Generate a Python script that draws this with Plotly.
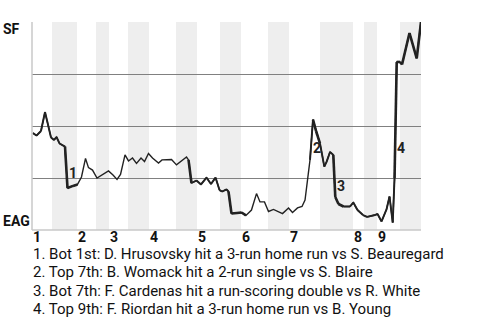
import plotly.graph_objects as go

# ---- data ----
# game progress (event index) and SF win probability
event_x = [0.2, 1.04, 2.08, 3.01, 4.40, 5.09, 5.67, 6.36, 7.64, 8.21,
           9.49, 10.53, 11.45, 12.38, 13.07, 14.00, 15.04, 16.31, 17.70, 18.74,
           19.67, 20.48, 21.52, 22.33, 23.25, 24.18, 25.22, 26.03, 26.95, 27.88,
           29.27, 30.08, 32.28, 33.43, 35.75, 36.21, 36.90, 38.06, 39.10, 40.37,
           41.41, 42.46, 43.38, 43.96, 45.00, 45.46, 46.16, 47.43, 48.47, 49.51,
           50.78, 51.94, 52.75, 53.79, 54.72, 55.87, 56.80, 57.96, 59.35, 60.27,
           61.43, 62.47, 63.17, 63.62, 64.32, 65.01, 65.71, 66.63, 67.63, 68.18,
           68.95, 69.71, 70.17, 70.91, 72.07, 73.58, 74.34, 75.31, 76.58, 77.51,
           79.36, 79.94, 80.87, 82.02, 82.72, 83.46, 83.88, 84.38, 85.15, 85.61,
           87.34, 89.01, 90.0]
sf_win_prob = [0.466, 0.454, 0.476, 0.567, 0.445, 0.433, 0.447, 0.416, 0.401, 0.202,
               0.212, 0.219, 0.255, 0.344, 0.300, 0.288, 0.250, 0.267, 0.284, 0.264,
               0.243, 0.267, 0.361, 0.332, 0.346, 0.320, 0.346, 0.329, 0.368, 0.346,
               0.322, 0.337, 0.339, 0.313, 0.351, 0.337, 0.226, 0.238, 0.219, 0.252,
               0.221, 0.252, 0.192, 0.185, 0.195, 0.185, 0.079, 0.082, 0.084, 0.070,
               0.096, 0.175, 0.135, 0.135, 0.089, 0.099, 0.089, 0.079, 0.106, 0.084,
               0.106, 0.113, 0.144, 0.212, 0.337, 0.531, 0.476, 0.416, 0.305, 0.329,
               0.375, 0.361, 0.159, 0.125, 0.113, 0.113, 0.132, 0.096, 0.072, 0.063,
               0.072, 0.077, 0.041, 0.099, 0.161, 0.036, 0.250, 0.808, 0.808, 0.796,
               0.947, 0.825, 1.0]
# leverage class of each segment (segment i goes from point i to i+1)
leverage = [2, 2, 2, 2, 2, 2, 2, 2, 3, 3,
            3, 1, 1, 1, 1, 1, 1, 1, 1, 1,
            1, 1, 1, 1, 1, 1, 1, 1, 1, 1,
            1, 1, 1, 1, 1, 3, 2, 2, 2, 2,
            2, 2, 2, 2, 2, 3, 3, 3, 3, 1,
            1, 1, 1, 1, 1, 1, 1, 1, 1, 1,
            1, 1, 1, 1, 2, 3, 3, 2, 2, 2,
            2, 3, 3, 3, 2, 2, 2, 2, 2, 2,
            2, 2, 2, 2, 2, 2, 3, 3, 3, 3,
            3, 3]

# half-inning boundaries (event index)
half_inning_edges = [0, 4.63, 10.41, 14.81, 17.82, 22.21, 27.07, 33.32, 38.17, 43.50,
                     48.36, 54.60, 59.46, 66.63, 74.27, 76.81, 79.82, 85.14, 90.0]
inning_labels = ["1", "2", "3", "4", "5", "6", "7", "8", "9"]

team_top = "SF"
team_bottom = "EAG"

key_plays = [
    "Bot 1st: D. Hrusovsky hit a 3-run home run vs S. Beauregard",
    "Top 7th: B. Womack hit a 2-run single vs S. Blaire",
    "Bot 7th: F. Cardenas hit a run-scoring double vs R. White",
    "Top 9th: F. Riordan hit a 3-run home run vs B. Young",
]
key_play_label_x = [9.37, 65.87, 71.50, 85.38]
key_play_label_y = [0.272, 0.393, 0.212, 0.396]

# ---- figure ----
FONT = "Roboto, 'Noto Sans', sans-serif"
LINE = "#222222"
fig = go.Figure()

# shaded bottom half-innings
shapes = []
for i in range(1, len(half_inning_edges) - 1, 2):
    shapes.append(dict(type="rect", xref="x", yref="y",
                       x0=half_inning_edges[i], x1=half_inning_edges[i + 1],
                       y0=0, y1=1, fillcolor="#eeeeee", line_width=0, layer="below"))

# base line
fig.add_trace(go.Scatter(x=event_x, y=sf_win_prob, mode="lines",
                         line=dict(color=LINE, width=1.4),
                         hoverinfo="skip", showlegend=False))
# thicker overlays for higher leverage segments
widths = {2: 1.9, 3: 2.6}
for cls, w in widths.items():
    xs, ys = [], []
    for i, lv in enumerate(leverage):
        if lv == cls:
            xs += [event_x[i], event_x[i + 1], None]
            ys += [sf_win_prob[i], sf_win_prob[i + 1], None]
    fig.add_trace(go.Scatter(x=xs, y=ys, mode="lines",
                             line=dict(color=LINE, width=w),
                             hoverinfo="skip", showlegend=False, connectgaps=False))

annotations = []
# key play markers
for k, (lx, ly) in enumerate(zip(key_play_label_x, key_play_label_y)):
    annotations.append(dict(x=lx, y=ly, xref="x", yref="y", text="<b>" + str(k + 1) + "</b>",
                            showarrow=False, font=dict(family=FONT, size=14, color=LINE),
                            xanchor="center", yanchor="middle"))

# inning labels
for j, lab in enumerate(inning_labels):
    annotations.append(dict(x=half_inning_edges[2 * j], y=0, xref="x", yref="y",
                            text="<b>" + lab + "</b>", showarrow=False,
                            xanchor="left", yanchor="middle", yshift=-7, xshift=-1,
                            font=dict(family=FONT, size=14, color="#111111")))

# team labels
annotations.append(dict(x=0, y=1, xref="paper", yref="y", text="<b>" + team_top + "</b>",
                        showarrow=False, xanchor="left", yanchor="middle",
                        xshift=-31, yshift=-7, font=dict(family=FONT, size=14, color="#111111")))
annotations.append(dict(x=0, y=0, xref="paper", yref="y", text="<b>" + team_bottom + "</b>",
                        showarrow=False, xanchor="left", yanchor="middle",
                        xshift=-31, yshift=9, font=dict(family=FONT, size=14, color="#111111")))

# key play descriptions
for k, txt in enumerate(key_plays):
    annotations.append(dict(x=0, y=0, xref="paper", yref="y",
                            text=f"{k + 1}. {txt}", showarrow=False,
                            xanchor="left", yanchor="middle", xshift=-1,
                            yshift=-24 - 18.3 * k,
                            font=dict(family=FONT, size=15, color="#111111")))

fig.update_layout(
    width=480, height=320,
    margin=dict(l=32, r=59, t=22, b=90, pad=0),
    paper_bgcolor="white", plot_bgcolor="white",
    shapes=shapes, annotations=annotations,
    xaxis=dict(range=[0, 90], showgrid=False, zeroline=False, showticklabels=False,
               ticks="", showline=False, fixedrange=True),
    yaxis=dict(range=[0, 1], tickvals=[0.25, 0.5, 0.75, 1.0], showgrid=True,
               gridcolor="#808080", gridwidth=1, zeroline=False, showticklabels=False,
               ticks="", showline=False, fixedrange=True),
)
# axis lines (left and bottom), light grey
fig.add_shape(type="line", xref="paper", yref="paper", x0=0, x1=0, y0=0, y1=1,
              line=dict(color="#c8c8c8", width=1.5), layer="above")
fig.add_shape(type="line", xref="paper", yref="paper", x0=0, x1=1, y0=0, y1=0,
              line=dict(color="#c8c8c8", width=1.5), layer="above")

fig.write_html("out.html")
